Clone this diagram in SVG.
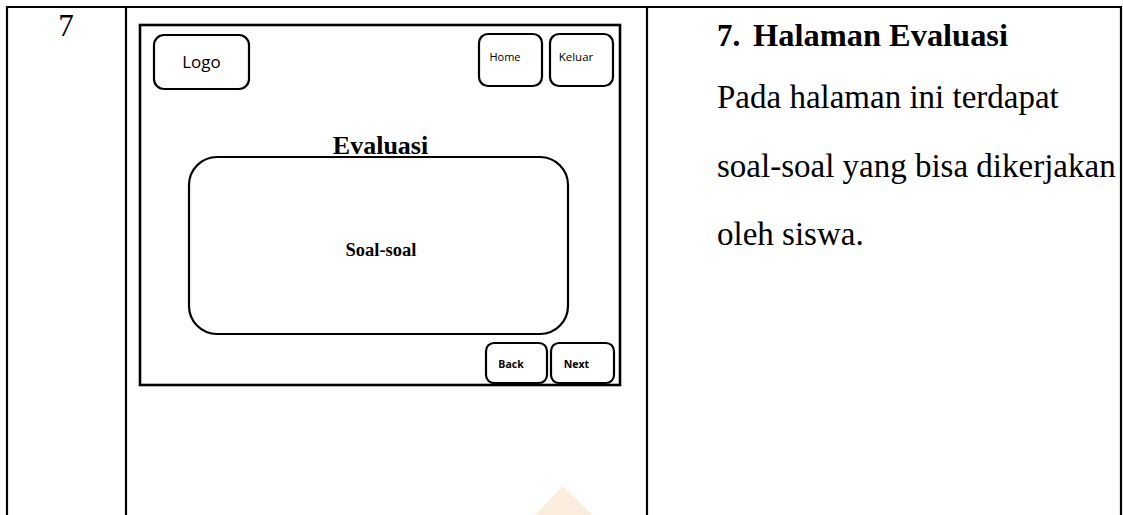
<svg xmlns="http://www.w3.org/2000/svg" width="1123" height="515" viewBox="0 0 1123 515">
<style>
.tbl{stroke:#000;stroke-width:2.2;fill:none}
.frame{stroke:#000;stroke-width:2.6;fill:none}
.box{stroke:#000;stroke-width:2.2;fill:#fff}
.serif{font-family:"Liberation Serif","Times New Roman",serif;fill:#000}
.sans{font-family:"Open Sans","Liberation Sans",sans-serif;fill:#000}
</style>
<rect width="1123" height="515" fill="#fff"/>
<g id="table">
<line class="tbl" x1="6" y1="7" x2="1122" y2="7"/>
<line class="tbl" x1="7" y1="6" x2="7" y2="515"/>
<line class="tbl" x1="126" y1="6" x2="126" y2="515"/>
<line class="tbl" x1="647" y1="6" x2="647" y2="515"/>
<line class="tbl" x1="1121" y1="6" x2="1121" y2="515"/>
</g>
<g id="watermark" opacity="0.22">
<polygon points="563,486 535,515 592,515" fill="#f0b060"/>
</g>
<text class="serif" x="66" y="36" font-size="31" text-anchor="middle">7</text>
<g id="frame">
<rect class="frame" x="140" y="25" width="480" height="360"/>
</g>
<g id="logo">
<rect class="box" x="154" y="35" width="95" height="54" rx="10"/>
<text class="sans" x="201.5" y="68" font-size="17" text-anchor="middle">Logo</text>
</g>
<g id="home">
<rect class="box" x="479" y="34" width="63" height="52" rx="9"/>
<text class="sans" x="505" y="61" font-size="11" text-anchor="middle">Home</text>
</g>
<g id="keluar">
<rect class="box" x="550" y="34" width="63" height="52" rx="9"/>
<text class="sans" x="576" y="61" font-size="11.5" text-anchor="middle">Keluar</text>
</g>
<g id="title">
<text class="serif" x="380.5" y="154" font-size="26" font-weight="bold" text-anchor="middle">Evaluasi</text>
</g>
<g id="soal">
<rect class="box" x="189" y="157" width="379" height="177" rx="28" fill="none"/>
<text class="serif" x="381" y="256" font-size="18.5" font-weight="bold" text-anchor="middle">Soal-soal</text>
</g>
<g id="back">
<rect class="box" x="486" y="343" width="61" height="40" rx="8"/>
<text class="sans" x="511" y="368" font-size="10.5" font-weight="bold" text-anchor="middle">Back</text>
</g>
<g id="next">
<rect class="box" x="551" y="343" width="63" height="40" rx="8"/>
<text class="sans" x="576.5" y="368" font-size="10.5" font-weight="bold" text-anchor="middle">Next</text>
</g>
<g id="description">
<text class="serif" x="717" y="46" font-size="31" font-weight="bold">7.</text>
<text class="serif" x="753" y="46" font-size="31" font-weight="bold" textLength="255" lengthAdjust="spacingAndGlyphs">Halaman Evaluasi</text>
<text class="serif" x="717" y="108" font-size="33">Pada halaman ini terdapat</text>
<text class="serif" x="717" y="177" font-size="33">soal-soal yang bisa dikerjakan</text>
<text class="serif" x="717" y="245" font-size="33">oleh siswa.</text>
</g>
</svg>
